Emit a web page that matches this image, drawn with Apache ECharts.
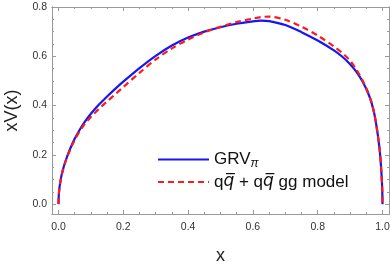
<!DOCTYPE html>
<html>
<head>
<meta charset="utf-8">
<script src="https://cdn.jsdelivr.net/npm/echarts@6/dist/echarts.min.js"></script>
<style>html,body{margin:0;padding:0;background:#fff}#c{width:390px;height:266px}</style>
</head>
<body>
<div id="c"></div>
<script>
var xs = [0, 0.001, 0.003, 0.006, 0.01, 0.015, 0.02, 0.03, 0.04, 0.05, 0.065, 0.08, 0.1, 0.125, 0.15, 0.175, 0.2, 0.25, 0.3, 0.35, 0.4, 0.45, 0.5, 0.55, 0.6, 0.625, 0.65, 0.7, 0.75, 0.8, 0.85, 0.875, 0.9, 0.92, 0.94, 0.955, 0.965, 0.975, 0.985, 0.992, 0.996, 0.999, 1];
var grv = [0, 0.038, 0.066, 0.093, 0.12, 0.146, 0.168, 0.205, 0.237, 0.265, 0.301, 0.332, 0.367, 0.404, 0.437, 0.468, 0.497, 0.552, 0.602, 0.644, 0.676, 0.700, 0.718, 0.732, 0.742, 0.745, 0.743, 0.727, 0.698, 0.664, 0.624, 0.599, 0.568, 0.536, 0.494, 0.452, 0.416, 0.365, 0.285, 0.21, 0.14, 0.065, 0];
var model = [0, 0.038, 0.066, 0.092, 0.118, 0.144, 0.166, 0.202, 0.233, 0.26, 0.295, 0.324, 0.354, 0.387, 0.417, 0.446, 0.475, 0.533, 0.587, 0.632, 0.668, 0.697, 0.72, 0.739, 0.753, 0.759, 0.761, 0.748, 0.72, 0.684, 0.64, 0.614, 0.582, 0.545, 0.498, 0.455, 0.418, 0.365, 0.285, 0.21, 0.14, 0.065, 0];
var xMajor = [0, 0.2, 0.4, 0.6, 0.8, 1.0];
var xMinor = [0.05, 0.1, 0.15, 0.25, 0.3, 0.35, 0.45, 0.5, 0.55, 0.65, 0.7, 0.75, 0.85, 0.9, 0.95];
var yMajor = [0, 0.2, 0.4, 0.6, 0.8];
var yMinor = [0.05, 0.1, 0.15, 0.25, 0.3, 0.35, 0.45, 0.5, 0.55, 0.65, 0.7, 0.75];

var FONT = "'Liberation Sans', Arial, 'DejaVu Sans', sans-serif";
var AX = '#999';
function pairs(a){ return xs.map(function(x,i){ return [x, a[i]]; }); }

function xAx(pos, ticks, len, main){
  return {
    type: 'value', min: -0.02, max: 1.02, position: pos,
    name: main ? 'x' : '', nameLocation: 'middle', nameGap: 33,
    nameTextStyle: {fontSize: 18, color: '#222', fontFamily: FONT},
    axisLine: {show: true, onZero: false, lineStyle: {color: AX, width: 1}},
    axisTick: {show: true, inside: true, length: len, customValues: ticks, lineStyle: {color: AX}},
    axisLabel: {show: main, customValues: ticks, margin: 8, fontSize: 10.5, color: '#333', fontFamily: FONT,
      formatter: function(v){ return v.toFixed(1); }},
    splitLine: {show: false}
  };
}
function yAx(pos, ticks, len, main){
  return {
    type: 'value', min: -0.04, max: 0.8, position: pos,
    name: main ? 'xV(x)' : '', nameLocation: 'middle', nameGap: 31,
    nameTextStyle: {fontSize: 18, color: '#222', fontFamily: FONT},
    axisLine: {show: true, onZero: false, lineStyle: {color: AX, width: 1}},
    axisTick: {show: true, inside: true, length: len, customValues: ticks, lineStyle: {color: AX}},
    axisLabel: {show: main, customValues: ticks, margin: 5, fontSize: 10.5, color: '#333', fontFamily: FONT,
      formatter: function(v){ return v.toFixed(1); }},
    splitLine: {show: false}
  };
}

var chart = echarts.init(document.getElementById('c'), null, {renderer: 'canvas'});
chart.setOption({
  animation: false,
  grid: {left: 52, right: 1, top: 7, bottom: 52, containLabel: false, outerBoundsMode: 'none'},
  xAxis: [xAx('bottom', xMajor, 4, true), xAx('bottom', xMinor, 2, false), xAx('top', xMajor, 4, false), xAx('top', xMinor, 2, false)],
  yAxis: [yAx('left', yMajor, 4, true), yAx('left', yMinor, 2, false), yAx('right', yMajor, 4, false), yAx('right', yMinor, 2, false)],
  legend: {
    orient: 'vertical', left: 152, top: 146, itemWidth: 51, itemHeight: 14, itemGap: 4,
    itemStyle: {opacity: 0},
    data: ['GRV', 'model'],
    textStyle: {fontSize: 17, color: '#111', fontFamily: FONT,
      rich: {
        a: {fontSize: 17, color: '#111', fontFamily: FONT},
        sub: {fontSize: 12, color: '#111', fontFamily: FONT, fontStyle: 'italic', verticalAlign: 'bottom', padding: [8,0,0,0]},
        qb: {fontSize: 17, color: '#111', fontFamily: "'DejaVu Sans', sans-serif", fontStyle: 'italic'}
      }},
    formatter: function(n){
      if (n === 'GRV') return '{a|GRV}{sub|\u03C0}';
      return '{a|q}{qb|q\u0305}{a| + q}{qb|q\u0305}{a| gg model}';
    }
  },
  series: [
    {name: 'GRV', type: 'line', xAxisIndex: 0, yAxisIndex: 0, data: pairs(grv), showSymbol: false, symbol: 'none',
     smooth: 0.3, color: '#1515f5', lineStyle: {color: '#1515f5', width: 2.2}, z: 2},
    {name: 'model', type: 'line', xAxisIndex: 0, yAxisIndex: 0, data: pairs(model), showSymbol: false, symbol: 'none',
     smooth: 0.3, color: '#ff1a1a', lineStyle: {color: '#ff1a1a', width: 2.2, type: [6, 4]}, z: 3}
  ]
});
</script>
</body>
</html>
